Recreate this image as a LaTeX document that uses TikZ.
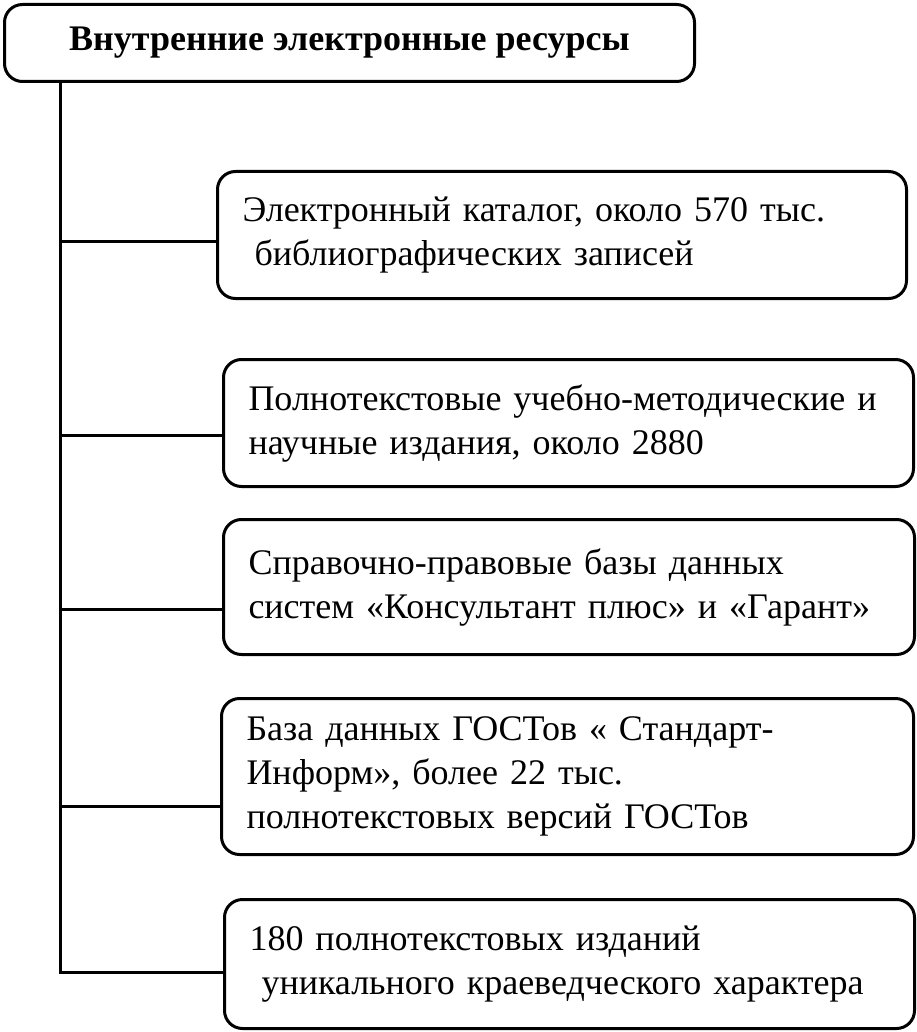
\documentclass[tikz,border=0pt]{standalone}
\usepackage{fontspec}
\setmainfont{Liberation Serif}
\usetikzlibrary{positioning}
\tikzset{
  wire/.style={black,line width=3pt},
  resbox/.style={draw=black,line width=3pt,rounded corners=18pt,anchor=north west,
                 inner xsep=25pt,inner ysep=0pt,align=left,
                 font=\fontsize{36}{44}\selectfont},
  headbox/.style={resbox,font=\fontsize{36}{40}\selectfont\bfseries,align=center},
}

\begin{document}
\begin{tikzpicture}[x=1pt,y=-1pt]
  \useasboundingbox (0,0) rectangle (917,1032);
  \node[headbox,minimum width=690pt,minimum height=77pt] (head) at (3,3)
    {Внутренние электронные ресурсы};

  \node[resbox,minimum width=689pt,minimum height=127pt,text width=639pt] (cat) at (216,170)
    {Электронный каталог, около 570 тыс.\\ \ библиографических записей};
  \node[resbox,minimum width=690pt,minimum height=127pt,text width=640pt] (full) at (222,358)
    {Полнотекстовые учебно-методические и\\научные издания, около 2880};
  \node[resbox,minimum width=691pt,minimum height=135pt,text width=641pt] (law) at (222,518)
    {Справочно-правовые базы данных\\систем «Консультант плюс» и «Гарант»};
  \node[resbox,minimum width=692pt,minimum height=156pt,text width=642pt] (gost) at (220,697)
    {База данных ГОСТов « Стандарт-\\Информ», более 22 тыс.\\ полнотекстовых версий ГОСТов};
  \node[resbox,minimum width=690pt,minimum height=129pt,text width=640pt] (local) at (223,898)
    {180 полнотекстовых изданий\\ \ уникального краеведческого характера};

  % trunk and branches
  \coordinate (trunk) at ([xshift=57pt]head.south west);
  \draw[wire] (trunk) |- ([yshift=-8pt]local.west);
  \foreach \nd/\dy in {cat/-6pt,full/-12pt,law/-22pt,gost/-30pt}{
    \coordinate (tip) at ([yshift=\dy]\nd.west);
    \draw[wire] (trunk |- tip) -- (tip);
  }
\end{tikzpicture}
\end{document}
